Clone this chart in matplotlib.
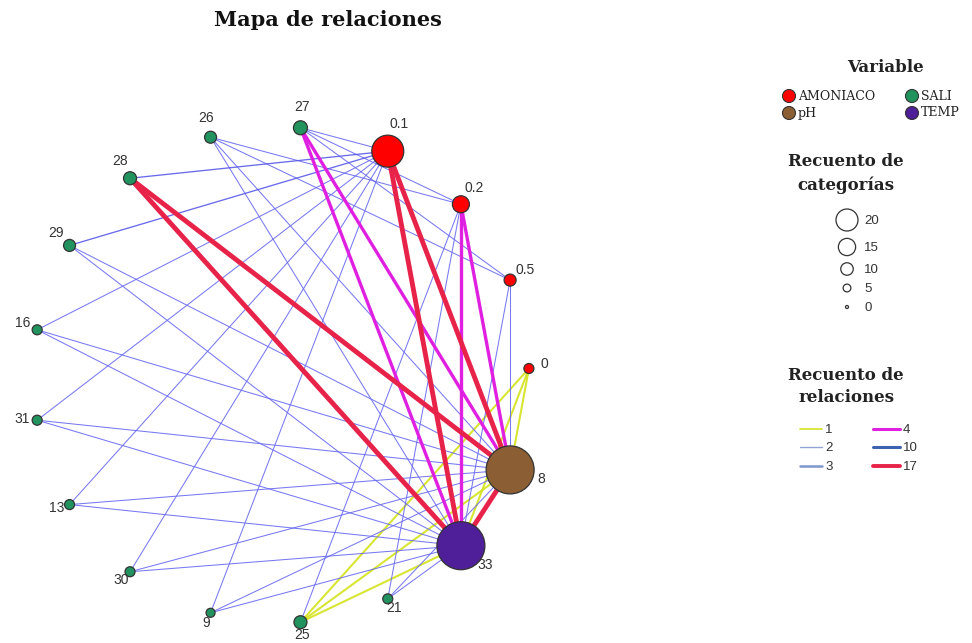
import numpy as np
import matplotlib
matplotlib.use("Agg")
import matplotlib.pyplot as plt
from matplotlib.patches import Circle

# nodes in circle order (counter-clockwise starting at the right)
node_names = ["0", "0.5", "0.2", "0.1", "27", "26", "28", "29", "16",
              "31", "13", "30", "9", "25", "21", "33", "8"]
node_vars = ["AMONIACO", "AMONIACO", "AMONIACO", "AMONIACO", "SALI", "SALI",
             "SALI", "SALI", "SALI", "SALI", "SALI", "SALI", "SALI", "SALI",
             "SALI", "TEMP", "pH"]
node_counts = [1, 2, 4.5, 12, 3, 2, 2.5, 2, 1, 1, 1, 1, 0.5, 2.5, 1, 20, 20]

# relations: source, target, count
edge_src = ["0.1", "0.1", "0.1", "0.1", "0.1", "0.1", "0.1", "0.1",
            "0.2", "0.2", "0.2", "0.2",
            "0.5", "0.5", "0.5", "0.5",
            "8", "8", "8", "8", "8", "8", "8", "8",
            "33", "33", "33", "33", "33", "33", "33", "33",
            "0", "0", "0", "25", "25",
            "27", "27", "0.2", "0.2",
            "28", "28", "0.1", "0.1", "8"]
edge_dst = ["27", "28", "29", "16", "31", "13", "30", "9",
            "27", "26", "21", "25",
            "27", "26", "8", "33",
            "26", "29", "16", "31", "13", "30", "9", "21",
            "26", "29", "16", "31", "13", "30", "9", "21",
            "8", "33", "25", "8", "33",
            "8", "33", "8", "33",
            "8", "33", "8", "33", "33"]
edge_count = [2, 3, 3, 2, 2, 2, 2, 2,
              2, 2, 2, 2,
              2, 2, 2, 2,
              2, 2, 2, 2, 2, 2, 2, 2,
              2, 2, 2, 2, 2, 2, 2, 2,
              1, 1, 1, 1, 1,
              4, 4, 4, 4,
              17, 17, 17, 17, 17]

var_names = ["AMONIACO", "SALI", "pH", "TEMP"]
size_legend = [20, 15, 10, 5, 0]
rel_legend = [1, 2, 3, 4, 10, 17]

var_colors = {"AMONIACO": "#ff0000", "SALI": "#22925f", "pH": "#8c5e34", "TEMP": "#4e1f98"}
edge_colors = {1: "#d4e31c", 2: "#6a6af0", 3: "#5a5ae8", 4: "#e020e0", 10: "#3d63b0", 17: "#e8234a"}
edge_widths = {1: 1.5, 2: 0.75, 3: 0.95, 4: 2.4, 10: 2.4, 17: 3.5}
leg_colors = {1: "#d4e31c", 2: "#93a5d6", 3: "#7f95cf", 4: "#e020e0", 10: "#3d63b0", 17: "#e8234a"}
leg_widths = {1: 1.2, 2: 1.0, 3: 1.8, 4: 2.2, 10: 2.2, 17: 2.8}

fig = plt.figure(figsize=(9.72, 6.43), dpi=100)
ax = fig.add_axes([0, 0, 1, 1])
ax.set_xlim(0, 972)
ax.set_ylim(643, 0)
ax.set_aspect("equal")
ax.axis("off")

# circular layout in pixel space
cx, cy, R = 281, 375, 248
step = 21.0
pos = {}
ang = {}
for i, n in enumerate(node_names):
    a = np.radians(1.5 + i * step)
    ang[n] = a
    pos[n] = (cx + R * np.cos(a), cy - R * np.sin(a))

def node_r(c):
    return 4 + c

# edges, thin first
order = np.argsort(edge_count, kind="stable")
for k in order:
    s, d, c = edge_src[k], edge_dst[k], edge_count[k]
    (x0, y0), (x1, y1) = pos[s], pos[d]
    ax.plot([x0, x1], [y0, y1], color=edge_colors[c], lw=edge_widths[c],
            alpha=0.9 if c <= 3 else 1.0, solid_capstyle="round", zorder=1 + c / 100)

# nodes and labels
for n, v, c in zip(node_names, node_vars, node_counts):
    x, y = pos[n]
    r = node_r(c)
    ax.add_patch(Circle((x, y), r, facecolor=var_colors[v], edgecolor="#333333",
                        lw=0.9, zorder=5))
    a = ang[n]
    off = r + 10
    ax.text(x + off * np.cos(a), y - off * np.sin(a) - 4, n, ha="center", va="center",
            fontsize=10, color="#333333", family="Liberation Sans", zorder=6)

ax.text(328, 20, "Mapa de relaciones", ha="center", va="center", fontsize=15,
        fontweight="bold", family="DejaVu Serif", color="#111111")

# legend: variable
ax.text(885, 68, "Variable", ha="center", va="center", fontsize=12,
        fontweight="bold", family="DejaVu Serif", color="#222222")
leg_pos = [(789, 96), (912, 96), (789, 113), (912, 113)]
for (lx, ly), vn in zip(leg_pos, var_names):
    ax.add_patch(Circle((lx, ly), 6.5, facecolor=var_colors[vn], edgecolor="#333333",
                        lw=0.8, zorder=5))
    ax.text(lx + 9, ly, vn, ha="left", va="center", fontsize=9,
            family="DejaVu Serif", color="#222222")

# legend: category counts
ax.text(846, 162, "Recuento de", ha="center", va="center", fontsize=12,
        fontweight="bold", family="DejaVu Serif", color="#222222")
ax.text(846, 185, "categorías", ha="center", va="center", fontsize=12,
        fontweight="bold", family="DejaVu Serif", color="#222222")
size_y = [220, 247, 269, 288, 307]
for val, ly in zip(size_legend, size_y):
    ax.add_patch(Circle((847, ly), 1.5 + 0.475 * val, facecolor="white",
                        edgecolor="#333333", lw=0.9, zorder=5))
    ax.text(864, ly + 1, str(val), ha="left", va="center", fontsize=9.5,
            family="Liberation Sans", color="#333333")

# legend: relation counts
ax.text(846, 376, "Recuento de", ha="center", va="center", fontsize=12,
        fontweight="bold", family="DejaVu Serif", color="#222222")
ax.text(846, 398, "relaciones", ha="center", va="center", fontsize=12,
        fontweight="bold", family="DejaVu Serif", color="#222222")
rel_xy = [(800, 429), (800, 447), (800, 466), (873, 429), (873, 447), (873, 466)]
for val, (lx, ly) in zip(rel_legend, rel_xy):
    w = 22 if lx < 850 else 27
    ax.plot([lx, lx + w], [ly, ly], color=leg_colors[val], lw=leg_widths[val],
            solid_capstyle="round")
    ax.text(lx + w + 3, ly + 1, str(val), ha="left", va="center", fontsize=9.5,
            family="Liberation Sans", color="#333333")

fig.savefig("out.png", dpi=100, facecolor="white")
